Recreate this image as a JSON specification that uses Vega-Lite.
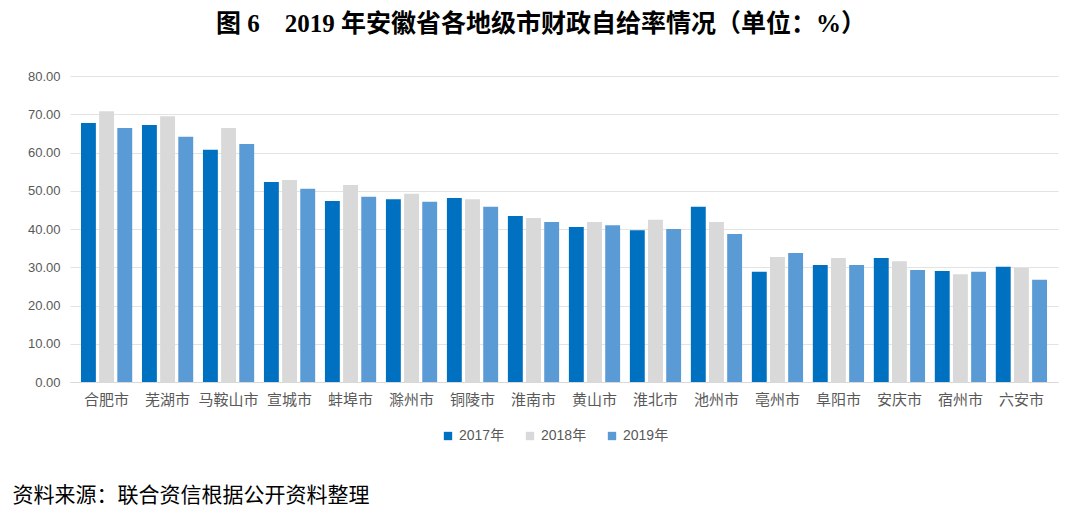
{
  "$schema": "https://vega.github.io/schema/vega-lite/v6.json",
  "width": 988,
  "height": 306,
  "autosize": {"type": "none"},
  "padding": {"left": 70, "top": 76, "right": 22, "bottom": 129},
  "background": "white",
  "title": {
    "text": "图 6\u00a0\u00a0\u00a0 2019 年安徽省各地级市财政自给率情况（单位：%）",
    "font": "Liberation Serif, Noto Sans CJK SC",
    "fontSize": 25,
    "fontWeight": "bold",
    "color": "#000000",
    "anchor": "middle",
    "frame": "group",
    "dx": -23,
    "offset": 33
  },
  "data": {
    "values": [
      {"city": "合肥市", "year": "2017年", "value": 67.7},
      {"city": "合肥市", "year": "2018年", "value": 70.8},
      {"city": "合肥市", "year": "2019年", "value": 66.4},
      {"city": "芜湖市", "year": "2017年", "value": 67.2},
      {"city": "芜湖市", "year": "2018年", "value": 69.5},
      {"city": "芜湖市", "year": "2019年", "value": 64.1},
      {"city": "马鞍山市", "year": "2017年", "value": 60.7},
      {"city": "马鞍山市", "year": "2018年", "value": 66.4},
      {"city": "马鞍山市", "year": "2019年", "value": 62.2},
      {"city": "宣城市", "year": "2017年", "value": 52.3},
      {"city": "宣城市", "year": "2018年", "value": 52.8},
      {"city": "宣城市", "year": "2019年", "value": 50.5},
      {"city": "蚌埠市", "year": "2017年", "value": 47.3},
      {"city": "蚌埠市", "year": "2018年", "value": 51.5},
      {"city": "蚌埠市", "year": "2019年", "value": 48.4},
      {"city": "滁州市", "year": "2017年", "value": 47.8},
      {"city": "滁州市", "year": "2018年", "value": 49.2},
      {"city": "滁州市", "year": "2019年", "value": 47.1},
      {"city": "铜陵市", "year": "2017年", "value": 48.1},
      {"city": "铜陵市", "year": "2018年", "value": 47.8},
      {"city": "铜陵市", "year": "2019年", "value": 45.8},
      {"city": "淮南市", "year": "2017年", "value": 43.4},
      {"city": "淮南市", "year": "2018年", "value": 42.9},
      {"city": "淮南市", "year": "2019年", "value": 41.8},
      {"city": "黄山市", "year": "2017年", "value": 40.5},
      {"city": "黄山市", "year": "2018年", "value": 41.8},
      {"city": "黄山市", "year": "2019年", "value": 41.0},
      {"city": "淮北市", "year": "2017年", "value": 39.7},
      {"city": "淮北市", "year": "2018年", "value": 42.4},
      {"city": "淮北市", "year": "2019年", "value": 40.0},
      {"city": "池州市", "year": "2017年", "value": 45.8},
      {"city": "池州市", "year": "2018年", "value": 41.8},
      {"city": "池州市", "year": "2019年", "value": 38.7},
      {"city": "亳州市", "year": "2017年", "value": 28.8},
      {"city": "亳州市", "year": "2018年", "value": 32.7},
      {"city": "亳州市", "year": "2019年", "value": 33.7},
      {"city": "阜阳市", "year": "2017年", "value": 30.6},
      {"city": "阜阳市", "year": "2018年", "value": 32.4},
      {"city": "阜阳市", "year": "2019年", "value": 30.6},
      {"city": "安庆市", "year": "2017年", "value": 32.4},
      {"city": "安庆市", "year": "2018年", "value": 31.6},
      {"city": "安庆市", "year": "2019年", "value": 29.3},
      {"city": "宿州市", "year": "2017年", "value": 29.0},
      {"city": "宿州市", "year": "2018年", "value": 28.2},
      {"city": "宿州市", "year": "2019年", "value": 28.8},
      {"city": "六安市", "year": "2017年", "value": 30.1},
      {"city": "六安市", "year": "2018年", "value": 29.8},
      {"city": "六安市", "year": "2019年", "value": 26.7}
    ]
  },
  "mark": {"type": "bar"},
  "encoding": {
    "x": {
      "field": "city",
      "type": "nominal",
      "sort": null,
      "scale": {"paddingInner": 0.16, "paddingOuter": 0.18},
      "axis": {
        "title": "资料来源：联合资信根据公开资料整理",
        "titleFont": "Noto Sans CJK SC",
        "titleFontSize": 21,
        "titleFontWeight": "normal",
        "titleColor": "#000000",
        "titleAnchor": "start",
        "titleAlign": "left",
        "titleBaseline": "middle",
        "titleX": -58,
        "titleY": 113,
        "labelAngle": 0,
        "labelFont": "Noto Sans CJK SC",
        "labelFontSize": 15,
        "labelColor": "#595959",
        "labelPadding": 10,
        "ticks": false,
        "domain": true,
        "domainColor": "#d9d9d9",
        "domainWidth": 1,
        "grid": false
      }
    },
    "xOffset": {
      "field": "year",
      "type": "nominal",
      "scale": {"paddingInner": 0.18, "paddingOuter": 0}
    },
    "y": {
      "field": "value",
      "type": "quantitative",
      "scale": {"domain": [0, 80], "nice": false},
      "axis": {
        "title": null,
        "values": [0, 10, 20, 30, 40, 50, 60, 70, 80],
        "format": ".2f",
        "labelFont": "Liberation Sans, Noto Sans",
        "labelFontSize": 13,
        "labelColor": "#595959",
        "labelPadding": 10,
        "ticks": false,
        "domain": false,
        "grid": true,
        "gridColor": "#e3e3e3",
        "gridWidth": 1
      }
    },
    "color": {
      "field": "year",
      "type": "nominal",
      "scale": {
        "domain": ["2017年", "2018年", "2019年"],
        "range": ["#0070C0", "#D9D9D9", "#5B9BD5"]
      },
      "legend": {
        "title": null,
        "orient": "none",
        "direction": "horizontal",
        "legendX": 371,
        "legendY": 353,
        "symbolType": "square",
        "symbolSize": 70,
        "symbolStrokeWidth": 0,
        "labelFont": "Liberation Sans, Noto Sans CJK SC",
        "labelFontSize": 14,
        "labelColor": "#595959",
        "columnPadding": 18,
        "labelOffset": 4
      }
    }
  },
  "config": {
    "view": {"stroke": null}
  }
}
